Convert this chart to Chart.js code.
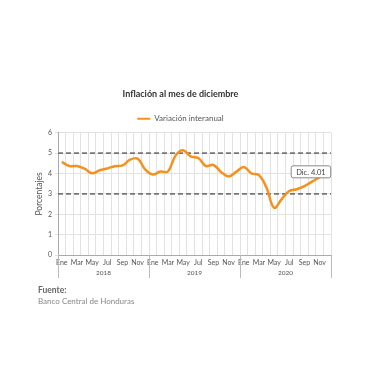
<!DOCTYPE html>
<html>
<head>
<meta charset="utf-8">
<script src="https://cdn.jsdelivr.net/npm/chart.js@4.4.1/dist/chart.umd.min.js"></script>
<style>
  html, body { margin: 0; padding: 0; background: #fff; }
  #wrap { position: relative; width: 380px; height: 380px; }
  #c { position: absolute; left: 0; top: 0; }
  .src { position: absolute; left: 38px; font-family: Lato, "DejaVu Sans", sans-serif; }
  #f1 { top: 285px; font-size: 8.5px; font-weight: bold; color: #666; }
  #f2 { top: 296px; font-size: 8px; color: #888; }
</style>
</head>
<body>
<div id="wrap">
  <canvas id="c" width="380" height="380"></canvas>
  <div class="src" id="f1">Fuente:</div>
  <div class="src" id="f2">Banco Central de Honduras</div>
</div>
<script>
const months = ['Ene','Feb','Mar','Abr','May','Jun','Jul','Ago','Sep','Oct','Nov','Dic'];
const years = ['2018', '2019', '2020'];
const inflacion2018 = [4.57, 4.37, 4.37, 4.24, 4.01, 4.16, 4.25, 4.36, 4.40, 4.68, 4.73, 4.20];
const inflacion2019 = [3.95, 4.10, 4.10, 4.88, 5.14, 4.84, 4.76, 4.37, 4.42, 4.08, 3.86, 4.08];
const inflacion2020 = [4.32, 4.01, 3.92, 3.30, 2.32, 2.74, 3.14, 3.23, 3.38, 3.60, 3.82, 4.01];
const refLines = [3, 5];
const yTicks = [0, 1, 2, 3, 4, 5, 6];
const calloutLabel = 'Dic.';

const labels = [];
years.forEach(y => months.forEach(m => labels.push(m + ' ' + y)));
const values = [].concat(inflacion2018, inflacion2019, inflacion2020);

const FONT = 'Lato, "DejaVu Sans", sans-serif';

const extras = {
  id: 'extras',
  beforeDatasetsDraw(chart) {
    const {ctx, chartArea, scales} = chart;
    ctx.save();
    ctx.strokeStyle = '#777';
    ctx.lineWidth = 1.6;
    ctx.setLineDash([5, 3]);
    refLines.forEach(v => {
      const y = scales.y.getPixelForValue(v);
      ctx.beginPath();
      ctx.moveTo(chartArea.left, y);
      ctx.lineTo(chartArea.right, y);
      ctx.stroke();
    });
    ctx.restore();
  },
  afterDraw(chart) {
    const {ctx, chartArea, scales} = chart;
    const x = scales.x;
    const half = (x.getPixelForValue(1) - x.getPixelForValue(0)) / 2;
    ctx.save();
    ctx.strokeStyle = '#bbb';
    ctx.lineWidth = 1;
    ctx.fillStyle = '#555';
    ctx.font = '6.5px ' + FONT;
    ctx.textAlign = 'center';
    ctx.textBaseline = 'middle';
    years.forEach((yr, i) => {
      const a = x.getPixelForValue(i * 12) - half;
      const b = x.getPixelForValue(i * 12 + 11) + half;
      [a, b].forEach(px => {
        ctx.beginPath();
        ctx.moveTo(Math.round(px) + 0.5, chartArea.bottom);
        ctx.lineTo(Math.round(px) + 0.5, chartArea.bottom + 23);
        ctx.stroke();
      });
      ctx.fillText(yr, (a + b) / 2, chartArea.bottom + 18);
    });
    const li = values.length - 1;
    const px = x.getPixelForValue(li);
    const py = scales.y.getPixelForValue(values[li]);
    const text = calloutLabel + ' ' + values[li].toFixed(2);
    ctx.font = '7.5px ' + FONT;
    const w = ctx.measureText(text).width + 10;
    const h = 12;
    const bx = px + 3 - w, by = py - 8;
    ctx.fillStyle = '#fff';
    ctx.strokeStyle = '#888';
    ctx.lineWidth = 1;
    ctx.beginPath();
    ctx.roundRect(bx + 0.5, by + 0.5, w, h, 2);
    ctx.fill();
    ctx.stroke();
    ctx.fillStyle = '#444';
    ctx.textAlign = 'center';
    ctx.fillText(text, bx + w / 2 + 0.5, by + h / 2 + 1);
    ctx.restore();
  }
};

new Chart(document.getElementById('c'), {
  type: 'line',
  data: {
    labels: labels,
    datasets: [{
      label: 'Variación interanual',
      data: values,
      borderColor: '#F5911E',
      backgroundColor: '#F5911E',
      borderWidth: 2.5,
      pointRadius: 0,
      tension: 0.4,
      fill: false
    }]
  },
  options: {
    responsive: false,
    animation: false,
    devicePixelRatio: 1,
    layout: { padding: { top: 89, left: 30, right: 49, bottom: 101 } },
    plugins: {
      title: {
        display: true,
        text: 'Inflación al mes de diciembre',
        color: '#333',
        font: { family: FONT, size: 9, weight: 'bold' },
        padding: { top: 0, bottom: 15 }
      },
      legend: {
        display: true,
        labels: {
          color: '#555',
          font: { family: FONT, size: 8 },
          boxWidth: 13,
          boxHeight: 2,
          padding: 0,
          generateLabels: function(chart) {
            const items = Chart.defaults.plugins.legend.labels.generateLabels(chart);
            items.forEach(it => { it.lineWidth = 0; });
            return items;
          }
        }
      },
      tooltip: { enabled: false }
    },
    scales: {
      x: {
        offset: true,
        grid: { offset: true, color: '#e2e2e2', drawTicks: false },
        border: { color: '#aaa' },
        ticks: {
          autoSkip: false,
          maxRotation: 0,
          minRotation: 0,
          padding: 4,
          color: '#555',
          font: { family: FONT, size: 7 },
          callback: function(v, i) { return i % 2 === 0 ? months[i % 12] : ''; }
        },
        afterFit: s => { s.height = 24; }
      },
      y: {
        min: 0,
        max: 6,
        afterBuildTicks: s => { s.ticks = yTicks.map(v => ({ value: v })); },
        grid: { color: '#e2e2e2', tickLength: 3 },
        border: { color: '#aaa' },
        ticks: { color: '#555', font: { family: FONT, size: 7 }, padding: 3 },
        title: {
          display: true,
          text: 'Porcentajes',
          color: '#555',
          font: { family: FONT, size: 8.5 },
          padding: { top: 4, bottom: 2 }
        },
        afterFit: s => { s.width = 28; }
      }
    }
  },
  plugins: [extras]
});
</script>
</body>
</html>
